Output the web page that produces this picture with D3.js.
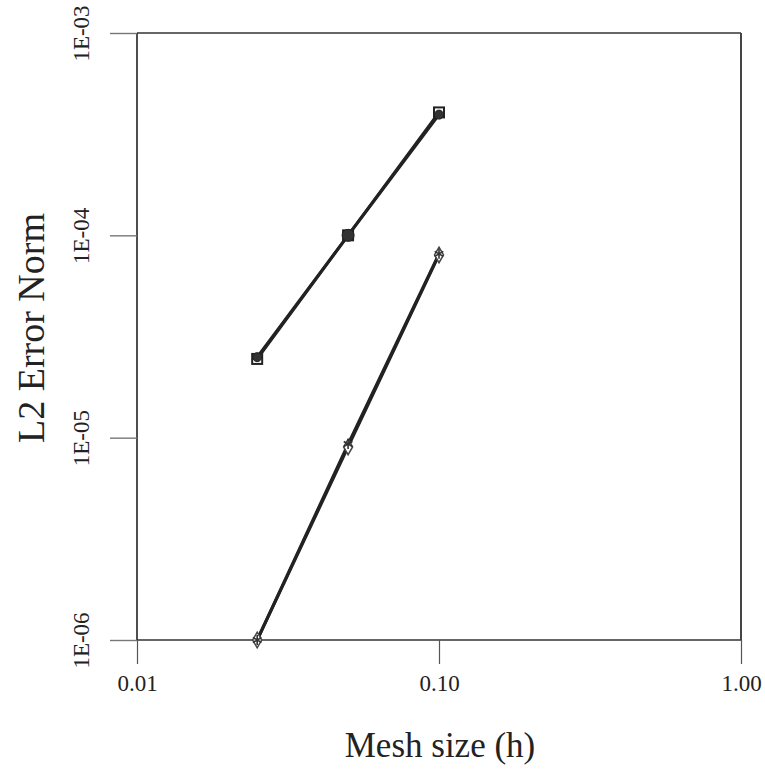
<!DOCTYPE html>
<html><head><meta charset="utf-8">
<script src="https://cdn.jsdelivr.net/npm/d3@7"></script>
<style>body{margin:0;background:#fff}svg{display:block}text{font-family:"Liberation Serif","DejaVu Serif",serif;fill:#222}</style>
</head><body><svg id="c" width="765" height="771"></svg>
<script>
const meshSizes = [0.025, 0.05, 0.1];
const seriesA = [2.45e-5, 1.0e-4, 4.05e-4];   // hollow squares
const seriesB = [2.5e-5, 1.0e-4, 3.95e-4];    // filled circles
const seriesC = [1.0e-6, 9.0e-6, 8.0e-5];     // hollow diamonds
const seriesD = [1.0e-6, 9.3e-6, 8.1e-5];     // asterisks
const xTicks = [0.01, 0.1, 1];
const xTickLabels = ["0.01", "0.10", "1.00"];
const yTicks = [1e-6, 1e-5, 1e-4, 1e-3];
const yTickLabels = ["1E-06", "1E-05", "1E-04", "1E-03"];

const svg = d3.select("#c");
const L = 137, R = 741, T = 33, B = 640;
const x = d3.scaleLog().domain([0.01, 1]).range([L, R]);
const y = d3.scaleLog().domain([1e-6, 1e-3]).range([B, T]);

// frame
svg.append("line").attr("x1", L).attr("x2", R).attr("y1", T).attr("y2", T).attr("stroke", "#666").attr("stroke-width", 2);
svg.append("line").attr("x1", L).attr("x2", R).attr("y1", B).attr("y2", B).attr("stroke", "#666").attr("stroke-width", 2);
svg.append("line").attr("x1", L).attr("x2", L).attr("y1", T).attr("y2", B).attr("stroke", "#222").attr("stroke-width", 1.6);
svg.append("line").attr("x1", R).attr("x2", R).attr("y1", T).attr("y2", B).attr("stroke", "#444").attr("stroke-width", 2);

// axes via d3
const xAxis = d3.axisBottom(x).tickValues(xTicks).tickSize(24).tickPadding(14)
  .tickFormat((d, i) => xTickLabels[i]);
const gx = svg.append("g").attr("transform", `translate(0,${B})`).call(xAxis);
gx.select(".domain").remove();
gx.selectAll(".tick line").attr("stroke", "#555").attr("stroke-width", 1.2);
gx.selectAll(".tick text").attr("font-size", 23).attr("fill", "#222").attr("dy", "0.55em");

const yAxis = d3.axisLeft(y).tickValues(yTicks).tickSize(27).tickPadding(0)
  .tickFormat((d, i) => yTickLabels[i]);
const gy = svg.append("g").attr("transform", `translate(${L},0)`).call(yAxis);
gy.select(".domain").remove();
gy.selectAll(".tick line").attr("stroke", "#777").attr("stroke-width", 1.4);
gy.selectAll(".tick text").attr("font-size", 23).attr("fill", "#222")
  .attr("text-anchor", "middle").attr("x", 0).attr("dy", 0)
  .attr("transform", "translate(-53,0) rotate(-90)")
  .attr("dominant-baseline", "middle");

// titles
svg.append("text").attr("x", 440).attr("y", 757).attr("text-anchor", "middle")
  .attr("font-size", 35).text("Mesh size (h)");
svg.append("text").attr("transform", "translate(44,328) rotate(-90)").attr("text-anchor", "middle")
  .attr("font-size", 38).text("L2 Error Norm");

const line = d3.line().x(d => x(d[0])).y(d => y(d[1]));
const all = [seriesA, seriesB, seriesC, seriesD];
all.forEach(s => {
  svg.append("path").datum(meshSizes.map((m, i) => [m, s[i]]))
    .attr("d", line).attr("fill", "none").attr("stroke", "#222").attr("stroke-width", 3);
});

// markers
function pts(s) { return meshSizes.map((m, i) => [x(m), y(s[i])]); }
pts(seriesA).forEach(p => svg.append("rect").attr("x", p[0] - 5).attr("y", p[1] - 5).attr("width", 10).attr("height", 10)
  .attr("fill", "#fff").attr("stroke", "#222").attr("stroke-width", 2));
pts(seriesB).forEach((p, i) => svg.append("circle").attr("cx", p[0]).attr("cy", p[1]).attr("r", i === 1 ? 6 : 4.5)
  .attr("fill", "#333").attr("stroke", "#222"));
pts(seriesC).forEach(p => svg.append("path").attr("transform", `translate(${p[0]},${p[1]})`)
  .attr("d", d3.symbol(d3.symbolDiamond, 70)()).attr("fill", "#fff").attr("stroke", "#444").attr("stroke-width", 1.5));
pts(seriesD).forEach(p => svg.append("path").attr("transform", `translate(${p[0]},${p[1]})`)
  .attr("d", d3.symbol(d3.symbolAsterisk, 70)()).attr("fill", "none").attr("stroke", "#333").attr("stroke-width", 1.6));
</script></body></html>
